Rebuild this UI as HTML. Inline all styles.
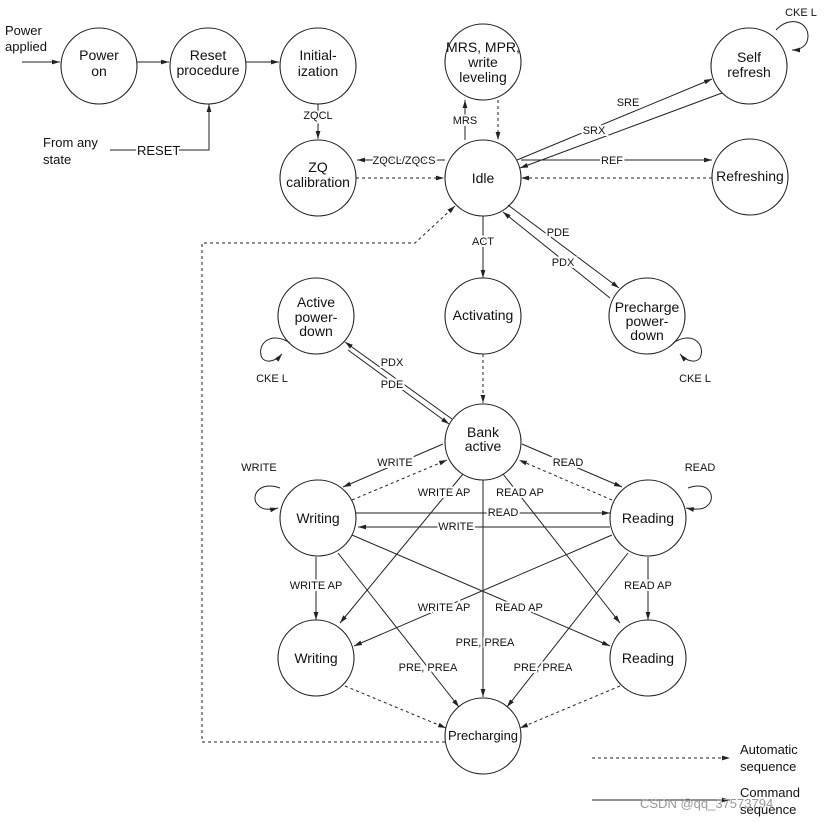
<!DOCTYPE html>
<html><head><meta charset="utf-8"><style>
html,body{margin:0;padding:0;background:#fff;}
svg{display:block;}
text{font-family:"Liberation Sans",sans-serif;fill:#111;}
.n{font-size:14px;text-anchor:middle;}
.l{font-size:11px;text-anchor:middle;paint-order:stroke;stroke:#fff;stroke-width:4px;}
.t{font-size:13px;}
</style></head><body>
<svg width="824" height="822" viewBox="0 0 824 822" xmlns="http://www.w3.org/2000/svg">
<defs>
<marker id="a" viewBox="0 0 10 10" refX="10" refY="5" markerWidth="8" markerHeight="8" orient="auto-start-reverse"><path d="M0,2 L10,5 L0,8 z" fill="#222"/></marker>
</defs>
<g fill="none" stroke="#222" stroke-width="1.1">
<circle cx="99" cy="66" r="38"/>
<circle cx="208" cy="66" r="38"/>
<circle cx="318" cy="66" r="38"/>
<circle cx="483" cy="62" r="38"/>
<circle cx="749" cy="66" r="38"/>
<circle cx="318" cy="178" r="38"/>
<circle cx="483" cy="178" r="38"/>
<circle cx="750" cy="177" r="38"/>
<circle cx="316" cy="316" r="38"/>
<circle cx="483" cy="316" r="38"/>
<circle cx="647" cy="316" r="38"/>
<circle cx="483" cy="442" r="38"/>
<circle cx="318" cy="518" r="38"/>
<circle cx="648" cy="518" r="38"/>
<circle cx="316" cy="658" r="38"/>
<circle cx="648" cy="658" r="38"/>
<circle cx="483" cy="736" r="38"/>
</g>
<g fill="none" stroke="#222" stroke-width="1" marker-end="url(#a)">
<line x1="22" y1="62" x2="60" y2="62"/>
<line x1="137" y1="62" x2="169" y2="62"/>
<line x1="246" y1="62" x2="279" y2="62"/>
<path d="M110,150 H209 V104"/>
<line x1="318" y1="104" x2="318" y2="139"/>
<line x1="445" y1="160" x2="357" y2="160"/>
<line x1="465" y1="140" x2="465" y2="100"/>
<line x1="517" y1="160" x2="712" y2="79"/>
<line x1="722" y1="93" x2="520" y2="168"/>
<line x1="521" y1="160" x2="712" y2="160"/>
<line x1="508" y1="205" x2="619" y2="288"/>
<line x1="610" y1="298" x2="503" y2="212"/>
<line x1="483" y1="216" x2="483" y2="278"/>
<line x1="452" y1="419" x2="345" y2="342"/>
<line x1="348" y1="350" x2="449" y2="424"/>
<line x1="443" y1="444" x2="343" y2="487"/>
<line x1="522" y1="444" x2="622" y2="487"/>
<line x1="356" y1="513" x2="610" y2="513"/>
<line x1="610" y1="527" x2="358" y2="527"/>
<line x1="316" y1="557" x2="316" y2="620"/>
<line x1="648" y1="557" x2="648" y2="620"/>
<line x1="463" y1="474" x2="340" y2="623"/>
<line x1="503" y1="474" x2="620" y2="623"/>
<line x1="352" y1="535" x2="610" y2="646"/>
<line x1="612" y1="535" x2="354" y2="646"/>
<line x1="483" y1="480" x2="483" y2="697"/>
<line x1="338" y1="553" x2="459" y2="707"/>
<line x1="628" y1="553" x2="507" y2="707"/>
<line x1="592" y1="800" x2="730" y2="800"/>
<path d="M776,30 C790,15 808,22 808,36 C808,46 800,50 792,50"/>
<path d="M280,488 C258,480 250,498 258,505 C262,510 270,510 278,508"/>
<path d="M688,488 C710,480 716,498 708,505 C704,510 696,510 686,508"/>
<path d="M290,343 C270,330 256,345 262,358 C266,363 275,362 282,354"/>
<path d="M673,343 C693,330 706,345 700,358 C696,363 687,362 680,354"/>
</g>
<g fill="none" stroke="#222" stroke-width="1" stroke-dasharray="3,3" marker-end="url(#a)">
<line x1="356" y1="178" x2="444" y2="178"/>
<line x1="498" y1="100" x2="498" y2="140"/>
<line x1="712" y1="178" x2="521" y2="178"/>
<line x1="483" y1="354" x2="483" y2="403"/>
<line x1="352" y1="500" x2="447" y2="460"/>
<line x1="612" y1="500" x2="519" y2="460"/>
<line x1="345" y1="686" x2="446" y2="728"/>
<line x1="620" y1="686" x2="520" y2="728"/>
<path d="M445,742 H202 V243 H415 L455,206"/>
<line x1="592" y1="758" x2="730" y2="758"/>
</g>
<g class="n">
<text x="99" y="60">Power</text><text x="99" y="76">on</text>
<text x="208" y="60">Reset</text><text x="208" y="75">procedure</text>
<text x="318" y="60">Initial-</text><text x="318" y="76">ization</text>
<text x="483" y="52">MRS, MPR,</text><text x="483" y="67">write</text><text x="483" y="82">leveling</text>
<text x="749" y="62">Self</text><text x="749" y="77">refresh</text>
<text x="318" y="172">ZQ</text><text x="318" y="187">calibration</text>
<text x="483" y="183">Idle</text>
<text x="750" y="181">Refreshing</text>
<text x="316" y="307">Active</text><text x="316" y="322">power-</text><text x="316" y="336">down</text>
<text x="483" y="320">Activating</text>
<text x="647" y="312">Precharge</text><text x="647" y="326">power-</text><text x="647" y="340">down</text>
<text x="483" y="437">Bank</text><text x="483" y="451">active</text>
<text x="318" y="523">Writing</text>
<text x="648" y="523">Reading</text>
<text x="316" y="663">Writing</text>
<text x="648" y="663">Reading</text>
<text x="483" y="740" style="font-size:13px">Precharging</text>
</g>
<g class="t">
<text x="5" y="35">Power</text><text x="5" y="51">applied</text>
<text x="43" y="147">From any</text><text x="43" y="164">state</text>
<text x="740" y="754">Automatic</text><text x="740" y="771">sequence</text>
<text x="740" y="797">Command</text><text x="740" y="814">sequence</text>
</g>
<text x="137" y="155" class="t" style="paint-order:stroke;stroke:#fff;stroke-width:4px">RESET</text>
<g class="l">
<text x="318" y="119">ZQCL</text>
<text x="404" y="164">ZQCL/ZQCS</text>
<text x="465" y="124">MRS</text>
<text x="628" y="106">SRE</text>
<text x="594" y="134">SRX</text>
<text x="612" y="164">REF</text>
<text x="558" y="236">PDE</text>
<text x="563" y="266">PDX</text>
<text x="483" y="245">ACT</text>
<text x="392" y="366">PDX</text>
<text x="392" y="388">PDE</text>
<text x="801" y="16">CKE L</text>
<text x="272" y="382">CKE L</text>
<text x="695" y="382">CKE L</text>
<text x="395" y="466">WRITE</text>
<text x="568" y="466">READ</text>
<text x="259" y="471">WRITE</text>
<text x="700" y="471">READ</text>
<text x="503" y="516">READ</text>
<text x="456" y="530">WRITE</text>
<text x="444" y="496">WRITE AP</text>
<text x="520" y="496">READ AP</text>
<text x="316" y="589">WRITE AP</text>
<text x="648" y="589">READ AP</text>
<text x="444" y="611">WRITE AP</text>
<text x="519" y="611">READ AP</text>
<text x="485" y="646">PRE, PREA</text>
<text x="428" y="671">PRE,  PREA</text>
<text x="543" y="671">PRE,  PREA</text>
</g>
<text x="640" y="808" style="font-size:13px;fill:#999">CSDN @qq_37573794</text>
</svg>
</body></html>
